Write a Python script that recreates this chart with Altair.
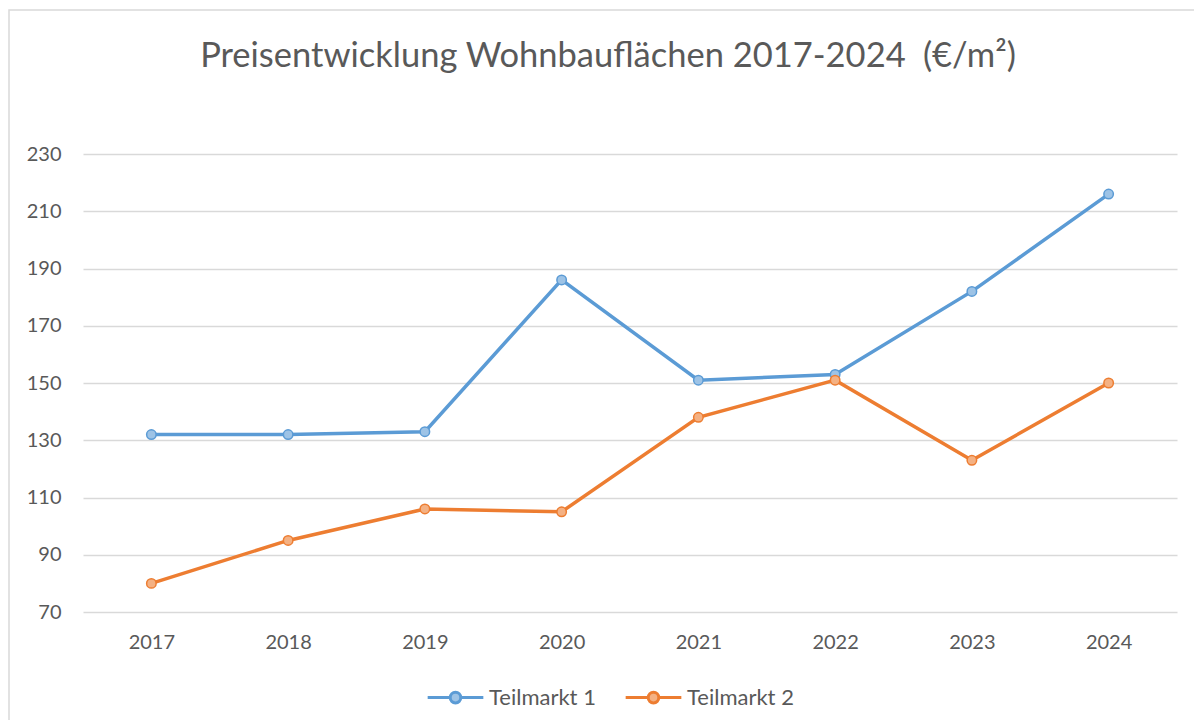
import altair as alt
import pandas as pd

years = ["2017", "2018", "2019", "2020", "2021", "2022", "2023", "2024"]
teilmarkt1 = [132, 132, 133, 186, 151, 153, 182, 216]
teilmarkt2 = [80, 95, 106, 105, 138, 151, 123, 150]
series_names = ["Teilmarkt 1", "Teilmarkt 2"]
line_colors = ["#5B9BD5", "#ED7D31"]
fill_colors = ["#9DC3E6", "#F4B183"]
y_ticks = [70, 90, 110, 130, 150, 170, 190, 210, 230]

rows = []
for s, vals in zip(series_names, [teilmarkt1, teilmarkt2]):
    for y, v in zip(years, vals):
        rows.append({"Jahr": y, "Wert": v, "Serie": s})
df = pd.DataFrame(rows)

FONT = "Lato"
TXT = "#595959"
W, H = 1094, 458

x_enc = alt.X("Jahr:N", sort=years, scale=alt.Scale(type="point", padding=0.5),
              axis=alt.Axis(title=None, labelAngle=0, ticks=False, domain=False,
                            grid=False, labelPadding=20, labelFontSize=20,
                            labelFont=FONT, labelColor=TXT))
y_enc = alt.Y("Wert:Q", scale=alt.Scale(domain=[70, 230], nice=False, zero=False),
              axis=alt.Axis(title=None, values=y_ticks, ticks=False, domain=False,
                            grid=True, gridColor="#D9D9D9", gridWidth=1.5,
                            labelPadding=22, labelFontSize=20, labelFont=FONT,
                            labelColor=TXT))

sym_path = ("M-1,0L-0.2,0M0.2,0L1,0"
            "M-0.19,0A0.19,0.19 0 1,0 0.19,0A0.19,0.19 0 1,0 -0.19,0Z")

def make_legend():
    return alt.Legend(title=None, orient="none", direction="horizontal",
                      legendX=343, legendY=514,
                      symbolType=sym_path, symbolSize=3100,
                      symbolStrokeWidth=3, labelFontSize=22,
                      labelFont=FONT, labelColor=TXT,
                      labelOffset=4, columnPadding=23)

stroke_enc = alt.Stroke("Serie:N", sort=series_names,
                        scale=alt.Scale(domain=series_names, range=line_colors),
                        legend=make_legend())
fill_enc = alt.Fill("Serie:N", sort=series_names,
                    scale=alt.Scale(domain=series_names, range=fill_colors),
                    legend=make_legend())

border = alt.Chart(alt.Data(values=[{"a": 1}])).mark_rect(
    fillOpacity=0, stroke="#D9D9D9", strokeWidth=1.5
).encode(x=alt.value(-74), x2=alt.value(1129), y=alt.value(-144), y2=alt.value(584))

base = alt.Chart(df)
lines = base.mark_line(strokeWidth=3.5).encode(x=x_enc, y=y_enc, stroke=stroke_enc,
                                                detail="Serie:N")
points = base.mark_point(filled=False, size=90, strokeWidth=1.5, opacity=1).encode(
    x=x_enc, y=y_enc, stroke=stroke_enc, fill=fill_enc)

chart = alt.layer(border, lines, points).properties(
    width=W, height=H,
    background="white",
    title=alt.TitleParams("Preisentwicklung Wohnbauflächen 2017-2024\u2002(€/m²)",
                          font=FONT, fontSize=34.5, fontWeight="normal", color=TXT,
                          anchor="middle", dx=-22, offset=-65),
    autosize=alt.AutoSizeParams(type="none"),
    padding={"left": 75, "top": 146, "right": 17, "bottom": 108},
).configure_view(stroke="transparent", strokeWidth=0)

chart.save("out.html", embed_options={"renderer": "svg", "actions": False})
